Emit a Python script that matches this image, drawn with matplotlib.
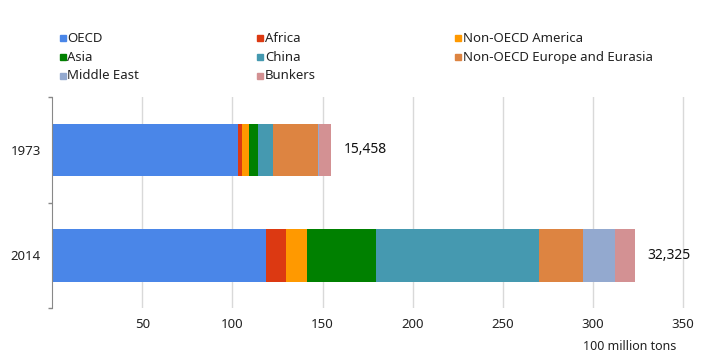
import matplotlib.pyplot as plt
from matplotlib.patches import Rectangle

plt.rcParams["font.family"] = ["Noto Sans", "DejaVu Sans"]

years = ["1973", "2014"]
regions = ["OECD", "Africa", "Non-OECD America", "Asia", "China",
           "Non-OECD Europe and Eurasia", "Middle East", "Bunkers"]
# 100 million tons
values_1973 = [103.0, 2.6, 3.8, 4.7, 8.5, 24.8, 0.8, 6.4]
values_2014 = [118.7, 11.0, 11.7, 38.0, 90.5, 24.5, 17.5, 11.35]
totals = ["15,458", "32,325"]
colors = ["#4a86e8", "#dc3912", "#ff9900", "#008000", "#4599b0",
          "#dd8441", "#93a9cf", "#d39193"]

fig = plt.figure(figsize=(7.03, 3.6), dpi=100)
ax = fig.add_axes([0.074, 0.144, 0.903, 0.586])

rows = [values_1973, values_2014]
ypos = list(range(len(years)))
for j in range(len(regions)):
    left = [sum(r[:j]) for r in rows]
    width = [r[j] for r in rows]
    ax.barh(ypos, width, left=left, height=0.5, color=colors[j], linewidth=0)

for y, r, t in zip(ypos, rows, totals):
    ax.annotate(t, (sum(r), y), xytext=(9, 0), textcoords="offset points",
                va="center", ha="left", fontsize=10, color="#111111")

ax.set_xlim(0, 352)
ax.set_ylim(1.5, -0.5)
ax.set_xticks([50, 100, 150, 200, 250, 300, 350])
ax.tick_params(axis="x", length=0, labelsize=9.5, labelcolor="#222222", pad=7)
ax.set_yticks(ypos)
ax.set_yticklabels(years)
ax.tick_params(axis="y", which="major", length=0, labelsize=9.5, labelcolor="#222222", pad=8)
ax.set_yticks([-0.5, 0.5, 1.5], minor=True)
ax.tick_params(axis="y", which="minor", length=3, color="#888888", width=1)
ax.grid(axis="x", color="#d9d9d9", linewidth=1)
ax.set_axisbelow(True)
for s in ["top", "right", "bottom"]:
    ax.spines[s].set_visible(False)
ax.spines["left"].set_color("#888888")

ax.text(0.983, -0.18, "100 million tons", transform=ax.transAxes, ha="right",
        va="center", fontsize=9, color="#222222")

# legend, 3 columns filled row by row
for i, (name, c) in enumerate(zip(regions, colors)):
    col, row = i % 3, i // 3
    x = 0.085 + col * 0.281
    y = 0.893 - row * 0.052
    fig.patches.append(Rectangle((x, y - 0.008), 0.0085, 0.0166, color=c,
                                 transform=fig.transFigure, figure=fig))
    fig.text(x + 0.011, y, name, fontsize=9.5, va="center", color="#222222")

fig.savefig("out.png", dpi=100)
